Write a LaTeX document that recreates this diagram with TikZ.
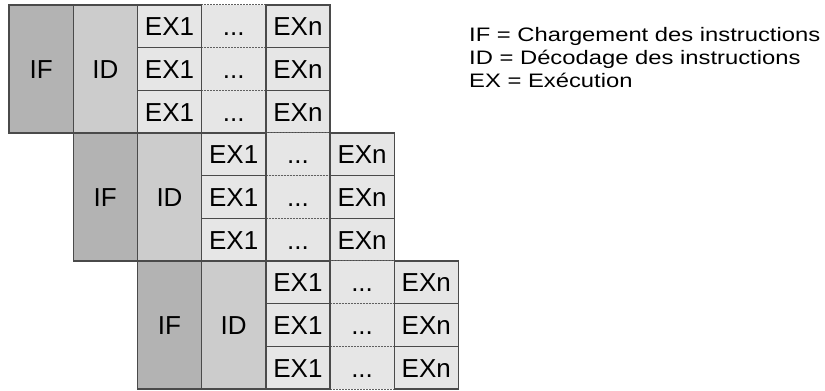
\documentclass[tikz,border=0pt]{standalone}
\usepackage{fontspec}
\setmainfont{Liberation Sans}
\newfontfamily\legendfont[FakeStretch=1.22]{Liberation Sans}
\definecolor{cIF}{HTML}{B3B3B3}
\definecolor{cID}{HTML}{CCCCCC}
\definecolor{cEX}{HTML}{E6E6E6}
\definecolor{cBorder}{HTML}{4A4A4A}
\definecolor{cDot}{HTML}{606060}
\begin{document}
\begin{tikzpicture}[x=1pt,y=-1pt,
  cellbase/.style={rectangle, inner sep=0pt, minimum width=64.2pt,
    font=\fontsize{26}{30}\selectfont, text height=18.7pt, text depth=0pt},
  cell/.style={cellbase, draw=cBorder, line width=1.4pt, minimum height=42.67pt, fill=cEX},
  tall/.style={cellbase, draw=cBorder, line width=1.4pt, minimum height=128pt},
  dotcell/.style={cellbase, minimum height=42.67pt, fill=cEX},
  dotline/.style={draw=cDot, line width=1pt, dash pattern=on 2pt off 1pt},
  legend/.style={inner sep=0pt, font=\legendfont\fontsize{19.5}{21}\selectfont}]
\useasboundingbox (0,0) rectangle (825,391);
\fill[white] (0,0) rectangle (825,391);
\foreach \k in {0,1,2} {
  \pgfmathsetmacro{\xo}{9+64.2*\k}
  \pgfmathsetmacro{\yo}{5+128*\k}
  \foreach \r in {0,1,2} {
    \pgfmathsetmacro{\yc}{\yo+(\r+0.5)*42.67}
    \node[dotcell] (dots\k\r) at ({\xo+3.5*64.2},\yc) {...};
    \draw[dotline] (dots\k\r.north west) -- (dots\k\r.north east);
    \draw[dotline] (dots\k\r.south west) -- (dots\k\r.south east);
  }
  \node[tall, fill=cIF] (if\k) at ({\xo+0.5*64.2},{\yo+64}) {IF};
  \node[tall, fill=cID] (id\k) at ({\xo+1.5*64.2},{\yo+64}) {ID};
  \foreach \r in {0,1,2} {
    \pgfmathsetmacro{\yc}{\yo+(\r+0.5)*42.67}
    \node[cell] (exa\k\r) at ({\xo+2.5*64.2},\yc) {EX1};
    \node[cell] (exn\k\r) at ({\xo+4.5*64.2},\yc) {EXn};
  }
}
\node[legend, anchor=base west] (l1) at (469,41.2) {IF = Chargement des instructions};
\node[legend, anchor=base west] (l2) at (469,64.2) {ID = Décodage des instructions};
\node[legend, anchor=base west] (l3) at (469,87.2) {EX = Exécution};
\end{tikzpicture}
\end{document}
